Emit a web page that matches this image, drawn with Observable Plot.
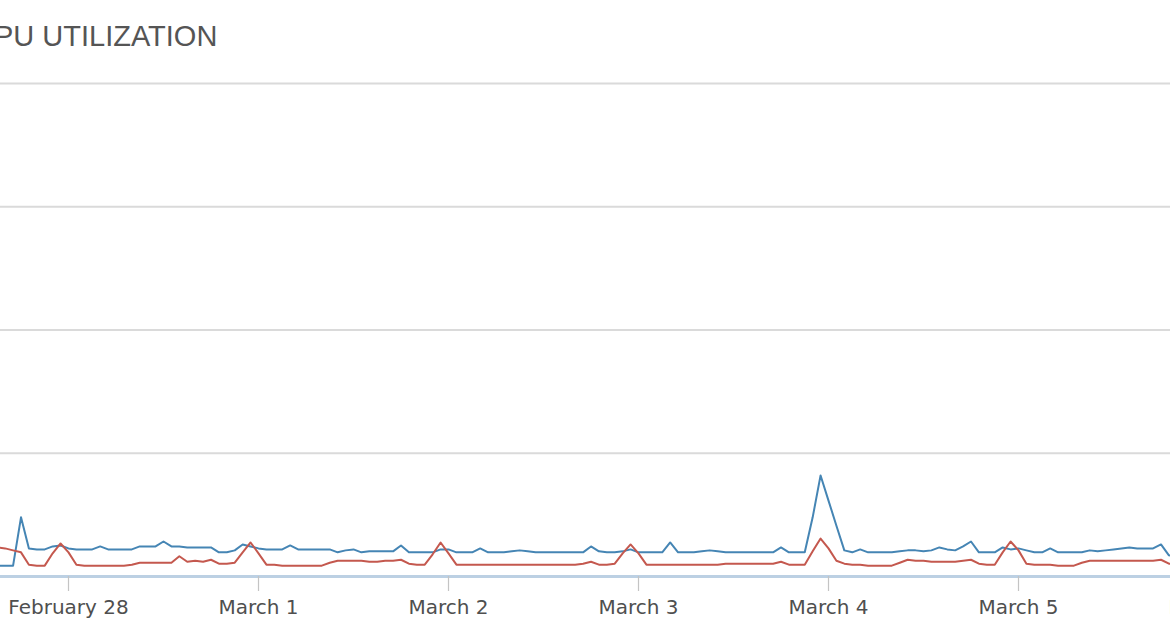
<!DOCTYPE html>
<html>
<head>
<meta charset="utf-8">
<script src="https://cdn.jsdelivr.net/npm/d3@7"></script>
<script src="https://cdn.jsdelivr.net/npm/@observablehq/plot@0.6"></script>
<style>
  html, body { margin: 0; padding: 0; background: #fff; overflow: hidden; width: 1170px; height: 636px; }
  #title { height: 60px; position: relative; }
  #title span { position: absolute; left: -27px; top: 22px; font: 29px "Liberation Sans", Arial, sans-serif; line-height: 29px; color: #555; white-space: nowrap; }
  #chart { width: 1240px; }
</style>
</head>
<body>
<div id="title"><span>CPU UTILIZATION</span></div>
<div id="chart"></div>
<script>
// hourly samples starting at Feb 27, 15:00 UTC
const firstSampleUTC = Date.UTC(2021, 1, 27, 15);
const seriesNames = ["Series 1", "Series 2"];
const blueValues = [
  2.2, 2.2, 2.2, 12.0, 5.7, 5.5, 5.5, 6.1, 6.3,
  5.7, 5.5, 5.5, 5.5, 6.1, 5.5, 5.5, 5.5, 5.5, 6.1, 6.1, 6.1, 7.1, 6.1, 6.1, 5.9, 5.9, 5.9, 5.9, 4.9, 4.9, 5.3, 6.5, 6.1,
  5.7, 5.5, 5.5, 5.5, 6.3, 5.5, 5.5, 5.5, 5.5, 5.5, 4.9, 5.3, 5.5, 4.9, 5.1, 5.1, 5.1, 5.1, 6.3, 4.9, 4.9, 4.9, 4.9, 5.5,
  5.5, 4.9, 4.9, 4.9, 5.7, 4.9, 4.9, 4.9, 5.1, 5.3, 5.1, 4.9, 4.9, 4.9, 4.9, 4.9, 4.9, 4.9, 6.1, 5.1, 4.9, 4.9, 5.1, 5.5,
  4.9, 4.9, 4.9, 4.9, 6.9, 4.9, 4.9, 4.9, 5.1, 5.3, 5.1, 4.9, 4.9, 4.9, 4.9, 4.9, 4.9, 4.9, 5.9, 4.9, 4.9, 4.9, 12.0, 20.5,
  15.4, 10.3, 5.3, 4.9, 5.5, 4.9, 4.9, 4.9, 4.9, 5.1, 5.3, 5.3, 5.1, 5.3, 5.9, 5.5, 5.3, 6.1, 7.1, 4.9, 4.9, 4.9, 5.9, 5.5,
  5.7, 5.3, 4.9, 4.9, 5.7, 4.9, 4.9, 4.9, 4.9, 5.3, 5.1, 5.3, 5.5, 5.7, 5.9, 5.7, 5.7, 5.7, 6.5, 4.3, 4.1
];
const redValues = [
  5.9, 5.7, 5.3, 4.9, 2.4, 2.2, 2.2, 4.7, 6.7,
  4.9, 2.4, 2.2, 2.2, 2.2, 2.2, 2.2, 2.2, 2.4, 2.8, 2.8, 2.8, 2.8, 2.8, 4.1, 3.0, 3.2, 3.0, 3.4, 2.6, 2.6, 2.8, 4.9, 6.9,
  4.7, 2.4, 2.4, 2.2, 2.2, 2.2, 2.2, 2.2, 2.2, 2.8, 3.2, 3.2, 3.2, 3.2, 3.0, 3.0, 3.2, 3.2, 3.4, 2.6, 2.4, 2.4, 4.5, 6.9,
  4.7, 2.4, 2.4, 2.4, 2.4, 2.4, 2.4, 2.4, 2.4, 2.4, 2.4, 2.4, 2.4, 2.4, 2.4, 2.4, 2.4, 2.6, 3.0, 2.4, 2.4, 2.6, 4.7, 6.5,
  4.7, 2.4, 2.4, 2.4, 2.4, 2.4, 2.4, 2.4, 2.4, 2.4, 2.4, 2.6, 2.6, 2.6, 2.6, 2.6, 2.6, 2.6, 3.0, 2.4, 2.4, 2.4, 5.1, 7.7,
  5.7, 3.2, 2.6, 2.4, 2.4, 2.2, 2.2, 2.2, 2.2, 2.8, 3.4, 3.2, 3.2, 3.0, 3.0, 3.0, 3.0, 3.2, 3.4, 2.6, 2.4, 2.4, 4.9, 7.1,
  5.3, 2.6, 2.4, 2.4, 2.4, 2.2, 2.2, 2.2, 2.8, 3.2, 3.2, 3.2, 3.2, 3.2, 3.2, 3.2, 3.2, 3.2, 3.4, 2.6, 2.4
];
const tickDates = [
  Date.UTC(2021, 1, 28), Date.UTC(2021, 2, 1), Date.UTC(2021, 2, 2), Date.UTC(2021, 2, 3),
  Date.UTC(2021, 2, 4), Date.UTC(2021, 2, 5), Date.UTC(2021, 2, 6)
];
const tickLabels = ["February 28", "March 1", "March 2", "March 3", "March 4", "March 5", "March 6"];
const gridValues = [25, 50, 75, 100];
const seriesColors = ["#4585b4", "#c4584e"];

const HOUR = 3600e3, DAY = 24 * HOUR;
const rows = [];
[blueValues, redValues].forEach((vals, s) => {
  vals.forEach((v, i) => rows.push({ time: new Date(firstSampleUTC + i * HOUR), value: v, series: seriesNames[s] }));
});

const W = 1240, pxPerDay = 190, feb28X = 68;
const xStart = new Date(tickDates[0] - (feb28X / pxPerDay) * DAY);
const xEnd = new Date(tickDates[0] + ((W - feb28X) / pxPerDay) * DAY);
const labelOf = new Map(tickDates.map((d, i) => [d, tickLabels[i]]));

const chart = Plot.plot({
  width: W,
  height: 576,
  marginLeft: 0,
  marginRight: 0,
  marginTop: 23,
  marginBottom: 60,
  style: { fontFamily: "DejaVu Sans, Verdana, sans-serif", fontSize: "20px", background: "#fff" },
  x: { type: "utc", domain: [xStart, xEnd], axis: null },
  y: { domain: [0, 100], axis: null },
  color: { domain: seriesNames, range: seriesColors },
  marks: [
    Plot.ruleY(gridValues, { stroke: "#dadada", strokeWidth: 2 }),
    Plot.line(rows, { x: "time", y: "value", z: "series", stroke: "series", strokeWidth: 2, curve: "linear", clip: true }),
    Plot.ruleY([0], { stroke: "#bcd0e3", strokeWidth: 3 }),
    Plot.axisX(tickDates.map(d => new Date(d)), {
      tickSize: 15,
      tickPadding: 8,
      tickFormat: d => labelOf.get(+d),
      stroke: "#c4c4c4",
      fill: "#4f4f4f",
      strokeWidth: 1.2
    })
  ]
});
document.getElementById("chart").appendChild(chart);
</script>
</body>
</html>
